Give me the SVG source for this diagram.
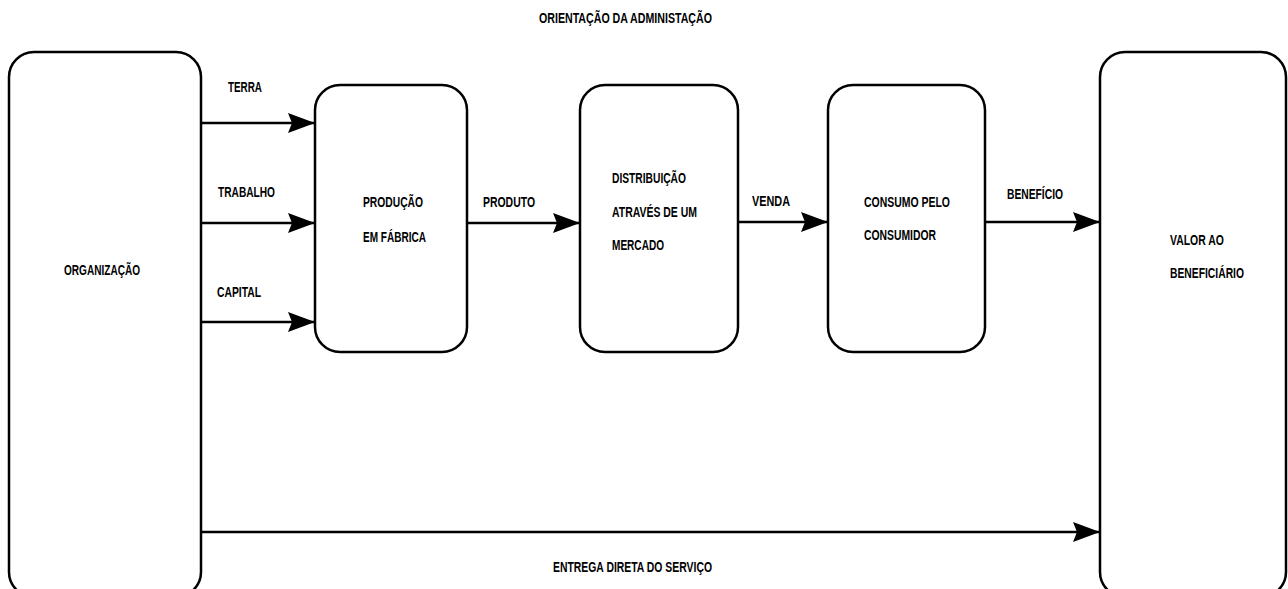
<svg xmlns="http://www.w3.org/2000/svg" width="1288" height="589" viewBox="0 0 1288 589">
<style>
.box{fill:#fff;stroke:#000;stroke-width:2.5}
.c{stroke:#000;stroke-width:2.5;fill:none}
text{font-family:"Liberation Sans",Arial,sans-serif;font-weight:bold;font-size:14px;fill:#000}
</style>
<defs>
<marker id="ah" markerUnits="userSpaceOnUse" markerWidth="28" markerHeight="22" refX="27" refY="11" orient="auto">
<path d="M0,1 L27,11 L0,21 L4,11 Z" fill="#000"/>
</marker>
</defs>
<rect width="1288" height="589" fill="#fff"/>
<text x="539" y="23" textLength="173" lengthAdjust="spacingAndGlyphs">ORIENTAÇÃO DA ADMINISTAÇÃO</text>
<g id="organizacao">
<rect class="box" x="9" y="52" width="192" height="545" rx="25" ry="25"/>
<text x="64" y="275" textLength="76" lengthAdjust="spacingAndGlyphs">ORGANIZAÇÃO</text>
</g>
<g id="producao">
<rect class="box" x="315" y="85" width="152" height="267" rx="25" ry="25"/>
<text x="363" y="207" textLength="60" lengthAdjust="spacingAndGlyphs">PRODUÇÃO</text>
<text x="363" y="242" textLength="63" lengthAdjust="spacingAndGlyphs">EM FÁBRICA</text>
</g>
<g id="distribuicao">
<rect class="box" x="580" y="85" width="158" height="267" rx="25" ry="25"/>
<text x="612" y="183" textLength="74" lengthAdjust="spacingAndGlyphs">DISTRIBUIÇÃO</text>
<text x="612" y="217" textLength="85" lengthAdjust="spacingAndGlyphs">ATRAVÉS DE UM</text>
<text x="612" y="250" textLength="52" lengthAdjust="spacingAndGlyphs">MERCADO</text>
</g>
<g id="consumo">
<rect class="box" x="828" y="85" width="157" height="267" rx="25" ry="25"/>
<text x="864" y="207" textLength="86" lengthAdjust="spacingAndGlyphs">CONSUMO PELO</text>
<text x="864" y="240" textLength="72" lengthAdjust="spacingAndGlyphs">CONSUMIDOR</text>
</g>
<g id="valor">
<rect class="box" x="1100" y="52" width="186" height="545" rx="25" ry="25"/>
<text x="1170" y="245" textLength="54" lengthAdjust="spacingAndGlyphs">VALOR AO</text>
<text x="1170" y="278" textLength="74" lengthAdjust="spacingAndGlyphs">BENEFICIÁRIO</text>
</g>
<g id="connectors">
<line class="c" x1="201" y1="123" x2="315" y2="123" marker-end="url(#ah)"/>
<line class="c" x1="201" y1="223" x2="315" y2="223" marker-end="url(#ah)"/>
<line class="c" x1="201" y1="322" x2="315" y2="322" marker-end="url(#ah)"/>
<line class="c" x1="467" y1="223" x2="580" y2="223" marker-end="url(#ah)"/>
<line class="c" x1="738" y1="222" x2="828" y2="222" marker-end="url(#ah)"/>
<line class="c" x1="985" y1="222" x2="1100" y2="222" marker-end="url(#ah)"/>
<line class="c" x1="201" y1="532" x2="1100" y2="532" marker-end="url(#ah)"/>
<text x="228" y="92" textLength="34" lengthAdjust="spacingAndGlyphs">TERRA</text>
<text x="218" y="197" textLength="57" lengthAdjust="spacingAndGlyphs">TRABALHO</text>
<text x="217" y="297" textLength="44" lengthAdjust="spacingAndGlyphs">CAPITAL</text>
<text x="483" y="207" textLength="52" lengthAdjust="spacingAndGlyphs">PRODUTO</text>
<text x="752" y="206" textLength="38" lengthAdjust="spacingAndGlyphs">VENDA</text>
<text x="1007" y="199" textLength="56" lengthAdjust="spacingAndGlyphs">BENEFÍCIO</text>
<text x="553" y="572" textLength="159" lengthAdjust="spacingAndGlyphs">ENTREGA DIRETA DO SERVIÇO</text>
</g>
</svg>
